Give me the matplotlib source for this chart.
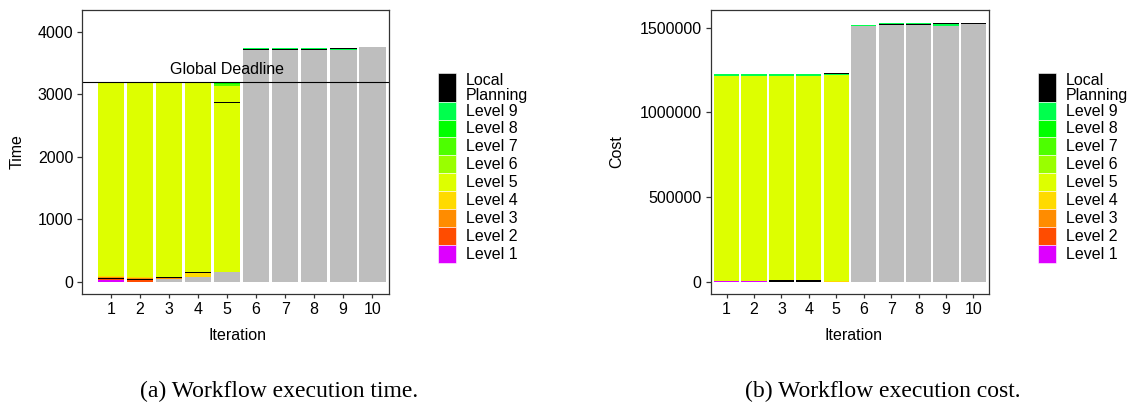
import matplotlib
matplotlib.use("Agg")
import matplotlib.pyplot as plt
import numpy as np
from matplotlib.patches import Rectangle
from matplotlib.ticker import FuncFormatter

plt.rcParams["font.family"] = ["Liberation Sans", "DejaVu Sans"]

W, H = 1137, 405

ITERATIONS = list(range(1, 11))

# --- (a) execution time, stacked pieces per iteration ---
TIME_DONE = [0, 0, 40, 70, 150, 3715, 3715, 3715, 3712, 3750]
TIME_L1 = [30, 0, 0, 0, 0, 0, 0, 0, 0, 0]
TIME_L2 = [15, 30, 0, 0, 0, 0, 0, 0, 0, 0]
TIME_PLAN_A = [10, 10, 0, 0, 0, 0, 0, 0, 0, 0]
TIME_L3 = [15, 15, 15, 0, 0, 0, 0, 0, 0, 0]
TIME_L4 = [15, 15, 5, 65, 0, 0, 0, 0, 0, 0]
TIME_PLAN_B = [0, 0, 10, 12, 0, 0, 0, 0, 0, 0]
TIME_L5 = [3090, 3105, 3105, 3028, 2710, 0, 0, 0, 0, 0]
TIME_PLAN_C = [0, 0, 0, 0, 14, 0, 0, 0, 0, 0]
TIME_L5_TOP = [0, 0, 0, 0, 256, 0, 0, 0, 0, 0]
TIME_L6 = [0, 0, 0, 0, 0, 0, 0, 0, 0, 0]
TIME_L7 = [0, 0, 0, 0, 35, 0, 0, 0, 0, 0]
TIME_L8 = [0, 0, 0, 0, 30, 0, 0, 0, 0, 0]
TIME_PLAN_D = [0, 0, 0, 0, 0, 16, 16, 16, 0, 0]
TIME_L9 = [20, 20, 20, 20, 0, 16, 16, 6, 20, 0]
TIME_PLAN_E = [0, 0, 0, 0, 0, 0, 0, 0, 16, 12]
GLOBAL_DEADLINE = 3200

# --- (b) execution cost ---
COST_DONE = [0, 0, 0, 0, 0, 1512000, 1514000, 1514000, 1513000, 1524000]
COST_L1 = [3000, 4000, 0, 0, 0, 0, 0, 0, 0, 0]
COST_L2 = [0, 0, 0, 0, 0, 0, 0, 0, 0, 0]
COST_PLAN_A = [3000, 2000, 0, 0, 0, 0, 0, 0, 0, 0]
COST_L3 = [0, 0, 0, 0, 0, 0, 0, 0, 0, 0]
COST_L4 = [0, 0, 0, 0, 3000, 0, 0, 0, 0, 0]
COST_PLAN_B = [0, 0, 8000, 12000, 0, 0, 0, 0, 0, 0]
COST_L5 = [1208000, 1208000, 1206000, 1202000, 1215000, 0, 0, 0, 0, 0]
COST_PLAN_C = [0, 0, 0, 0, 0, 0, 0, 0, 0, 0]
COST_L5_TOP = [0, 0, 0, 0, 0, 0, 0, 0, 0, 0]
COST_L6 = [0, 0, 0, 0, 0, 0, 0, 0, 0, 0]
COST_L7 = [0, 0, 0, 0, 0, 0, 0, 0, 0, 0]
COST_L8 = [0, 0, 0, 0, 0, 0, 0, 0, 0, 0]
COST_PLAN_D = [0, 0, 0, 0, 0, 0, 7000, 7000, 0, 0]
COST_L9 = [12000, 12000, 12000, 12000, 6000, 2000, 6000, 6000, 7000, 0]
COST_PLAN_E = [0, 0, 0, 0, 8000, 5000, 0, 0, 7000, 5000]

LEGEND_LABELS = ["Local\nPlanning", "Level 9", "Level 8", "Level 7", "Level 6",
                 "Level 5", "Level 4", "Level 3", "Level 2", "Level 1"]
LEGEND_COLORS = ["#000000", "#00FF4D", "#00FF00", "#4DFF00", "#99FF00",
                 "#DDFF00", "#FFDA00", "#FF8C00", "#FF4C00", "#DD00FF"]
DONE_COLOR = "#BEBEBE"

C = dict(zip(["plan", "l9", "l8", "l7", "l6", "l5", "l4", "l3", "l2", "l1"], LEGEND_COLORS))


def px_rect(x0, y0, x1, y1):
    return [x0 / W, 1 - y1 / H, (x1 - x0) / W, (y1 - y0) / H]


def draw_stack(ax, stack):
    bottom = np.zeros(len(ITERATIONS))
    for values, color in stack:
        vals = np.asarray(values, dtype=float)
        ax.bar(ITERATIONS, vals, bottom=bottom, width=0.92, color=color,
               linewidth=0)
        bottom += vals


def style_axes(ax):
    for s in ax.spines.values():
        s.set_color("#333333")
        s.set_linewidth(0.9)
    ax.tick_params(axis="both", labelsize=11.5, colors="#333333",
                   labelcolor="black", width=0.9)
    ax.tick_params(axis="y", length=3.5, pad=3)
    ax.tick_params(axis="x", length=3.2, pad=2.5)
    ax.set_xticks(ITERATIONS)


def draw_legend(ov, key_x, text_x):
    key_w = 18.3
    top = 72.6
    heights = [29.0] + [17.9] * 9
    y = top
    for label, color, h in zip(LEGEND_LABELS, LEGEND_COLORS, heights):
        ov.add_patch(Rectangle((key_x, y), key_w, h, facecolor=color,
                               edgecolor="white", linewidth=0.4))
        ov.text(text_x, y + h / 2 + 0.5, label, ha="left", va="center",
                fontsize=11.5, linespacing=1.0)
        y += h


fig = plt.figure(figsize=(W / 100, H / 100), dpi=100)

# ---- (a) time ----
ax1 = fig.add_axes(px_rect(82.3, 10, 389.3, 294))
draw_stack(ax1, [
    (TIME_DONE, DONE_COLOR), (TIME_L1, C["l1"]), (TIME_L2, C["l2"]),
    (TIME_PLAN_A, C["plan"]), (TIME_L3, C["l3"]), (TIME_L4, C["l4"]),
    (TIME_PLAN_B, C["plan"]), (TIME_L5, C["l5"]), (TIME_PLAN_C, C["plan"]),
    (TIME_L5_TOP, C["l5"]), (TIME_L6, C["l6"]), (TIME_L7, C["l7"]),
    (TIME_L8, C["l8"]), (TIME_PLAN_D, C["plan"]), (TIME_L9, C["l9"]),
    (TIME_PLAN_E, C["plan"]),
])
ax1.axhline(GLOBAL_DEADLINE, color="black", linewidth=0.8)
ax1.text(5, 3400, "Global Deadline", ha="center", va="center", fontsize=11.5)
ax1.set_xlim(0.01, 10.59)
ax1.set_ylim(-200, 4350)
ax1.set_yticks([0, 1000, 2000, 3000, 4000])
style_axes(ax1)

# ---- (b) cost ----
ax2 = fig.add_axes(px_rect(710.7, 10, 989.3, 294))
draw_stack(ax2, [
    (COST_DONE, DONE_COLOR), (COST_L1, C["l1"]), (COST_L2, C["l2"]),
    (COST_PLAN_A, C["plan"]), (COST_L3, C["l3"]), (COST_L4, C["l4"]),
    (COST_PLAN_B, C["plan"]), (COST_L5, C["l5"]), (COST_PLAN_C, C["plan"]),
    (COST_L5_TOP, C["l5"]), (COST_L6, C["l6"]), (COST_L7, C["l7"]),
    (COST_L8, C["l8"]), (COST_PLAN_D, C["plan"]), (COST_L9, C["l9"]),
    (COST_PLAN_E, C["plan"]),
])
ax2.set_xlim(0.42, 10.58)
ax2.set_ylim(-73000, 1605000)
ax2.set_yticks([0, 500000, 1000000, 1500000])
ax2.yaxis.set_major_formatter(FuncFormatter(lambda v, p: f"{int(v)}"))
style_axes(ax2)

# ---- overlay for titles, legends and captions ----
ov = fig.add_axes([0, 0, 1, 1])
ov.set_xlim(0, W)
ov.set_ylim(H, 0)
ov.axis("off")

ov.text(16.7, 152, "Time", rotation=90, ha="center", va="center", fontsize=11.5)
ov.text(616.7, 152, "Cost", rotation=90, ha="center", va="center", fontsize=11.5)
ov.text(237, 336, "Iteration", ha="center", va="center", fontsize=11.5)
ov.text(853.5, 336, "Iteration", ha="center", va="center", fontsize=11.5)

draw_legend(ov, 438, 466)
draw_legend(ov, 1037.7, 1066)

ov.text(279.5, 391, "(a) Workflow execution time.", ha="center", va="center",
        fontsize=17, family=["Liberation Serif", "DejaVu Serif"])
ov.text(882.6, 391, "(b) Workflow execution cost.", ha="center", va="center",
        fontsize=17, family=["Liberation Serif", "DejaVu Serif"])

fig.savefig("out.png", dpi=100)
